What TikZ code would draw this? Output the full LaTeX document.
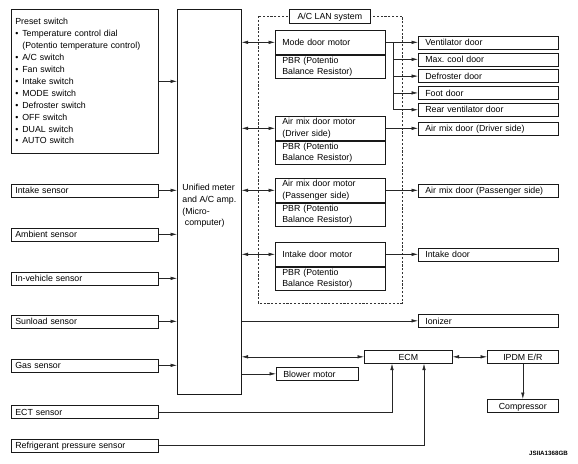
\documentclass[tikz,border=0pt]{standalone}
\usepackage{fontspec}
\setmainfont{Liberation Sans}
\usetikzlibrary{arrows.meta,calc}
\newcommand{\bul}{\makebox[7pt][l]{\textbullet}}
\frenchspacing
\begin{document}
\begin{tikzpicture}[x=1pt,y=-1pt,
  font=\fontsize{8.8}{11.5}\selectfont,
  box/.style={draw=black!90, line width=0.65pt, rectangle, inner sep=0pt, anchor=north west},
  lbox/.style 2 args={box, minimum height=13pt, text width=#1, inner xsep=#2, align=left, text height=6.4pt, text depth=0pt},
  cbox/.style={box, minimum height=13pt, align=center, text height=6.4pt, text depth=0pt},
  mtop/.style={box, minimum width=110pt, minimum height=24pt, text width=96pt, inner xsep=7pt, align=left},
  mbot/.style={box, minimum width=110pt, minimum height=23pt, text width=96pt, inner xsep=7pt, align=left},
  conn/.style={line width=0.55pt, draw=black!85},
  tip/.tip={Latex[length=6.5pt,width=3.5pt]},
  arr/.style={conn, -tip},
  darr/.style={conn, tip-tip},
  lan/.style={draw=black!80, line width=0.55pt, dash pattern=on 2.2pt off 1.6pt}]
\useasboundingbox (0,0) rectangle (578,463);

% LAN system frame
\draw[lan] (258,16) rectangle (402,303);
\node[cbox, fill=white, minimum width=81pt, minimum height=14pt] (lanlbl) at (289,9) {A/C LAN system};

% Left inputs
\node[box, minimum width=147pt, minimum height=144pt, text width=139pt, inner xsep=4pt, align=left,
      font=\fontsize{8.8}{11.9}\selectfont, yshift=-1.5pt] (preset) at (11,7.5) {Preset switch\\
\bul Temperature control dial\\
\hspace*{7pt}(Potentio temperature control)\\
\bul A/C switch\\
\bul Fan switch\\
\bul Intake switch\\
\bul MODE switch\\
\bul Defroster switch\\
\bul OFF switch\\
\bul DUAL switch\\
\bul AUTO switch};

\node[lbox={139pt}{4pt}] (intake) at (11,183.5) {Intake sensor};
\node[lbox={139pt}{4pt}] (ambient) at (11,227.5) {Ambient sensor};
\node[lbox={139pt}{4pt}] (invehicle) at (11,271.5) {In-vehicle sensor};
\node[lbox={139pt}{4pt}] (sunload) at (11,314.5) {Sunload sensor};
\node[lbox={139pt}{4pt}] (gas) at (11,358.5) {Gas sensor};
\node[lbox={139pt}{4pt}] (ect) at (11,405) {ECT sensor};
\node[lbox={139pt}{4pt}] (refr) at (11,438.5) {Refrigerant pressure sensor};

% Unified meter
\node[box, minimum width=64pt, minimum height=385pt, align=left,
      font=\fontsize{8.8}{11.7}\selectfont] (uni) at (177,9) {\rule{0pt}{5pt}\\[-2pt]Unified meter\\and A/C amp.\\(Micro-\\\hspace*{2.5pt}computer)};

% Motors
\node[mtop] (mode) at (275,30) {Mode door motor};
\node[mbot] (modep) at (mode.south west) {PBR (Potentio\\Balance Resistor)};
\node[mtop] (amd) at (275,116) {Air mix door motor\\(Driver side)};
\node[mbot] (amdp) at (amd.south west) {PBR (Potentio\\Balance Resistor)};
\node[mtop] (amp) at (275,178) {Air mix door motor\\(Passenger side)};
\node[mbot] (ampp) at (amp.south west) {PBR (Potentio\\Balance Resistor)};
\node[mtop] (idm) at (275,242) {Intake door motor};
\node[mbot] (idmp) at (idm.south west) {PBR (Potentio\\Balance Resistor)};

% Doors
\node[lbox={126pt}{7pt}] (vent) at (418,35.5) {Ventilator door};
\node[lbox={126pt}{7pt}] (maxc) at (418,52.5) {Max. cool door};
\node[lbox={126pt}{7pt}] (defr) at (418,69.3) {Defroster door};
\node[lbox={126pt}{7pt}] (foot) at (418,86.1) {Foot door};
\node[lbox={126pt}{7pt}] (rear) at (418,102.9) {Rear ventilator door};
\node[lbox={126pt}{7pt}] (amdd) at (418,121.5) {Air mix door (Driver side)};
\node[lbox={126pt}{7pt}] (ampd) at (418,183.5) {Air mix door (Passenger side)};
\node[lbox={126pt}{7pt}] (intd) at (418,247.5) {Intake door};
\node[lbox={126pt}{7pt}] (ion) at (418,314) {Ionizer};

% Lower outputs
\node[cbox, minimum width=88pt] (ecm) at (364,350) {ECM};
\node[cbox, minimum width=71pt] (ipdm) at (487,350) {IPDM E/R};
\node[cbox, minimum width=71pt] (comp) at (487,399) {Compressor};
\node[lbox={68pt}{7pt}] (blower) at (276,367) {Blower motor};

% Caption
\node[font=\bfseries\fontsize{6.2}{7}\selectfont, inner sep=0pt] (cap) at (548.5,453) {JSIIA1368GB};

% Connectors: inputs
\draw[arr] (preset.east) -- (preset.east -| uni.west);
\foreach \s in {intake,ambient,invehicle,sunload,gas}
  \draw[arr] (\s.east) -- (\s.east -| uni.west);

% Unified <-> motors
\foreach \m in {mode,amd,amp,idm}
  \draw[darr] (\m.west -| uni.east) -- (\m.west);

% Mode door branches
\draw[conn] (mode.east) -- ++(8,0) coordinate (br);
\draw[conn] (br) -- (br |- rear.west);
\foreach \d in {vent,maxc,defr,foot,rear}
  \draw[arr] (br |- \d.west) -- (\d.west);

\draw[arr] (amd.east) -- (amdd.west);
\draw[arr] (amp.east) -- (ampd.west);
\draw[arr] (idm.east) -- (intd.west);

% Ionizer, ECM, blower
\draw[arr] (ion.west -| uni.east) -- (ion.west);
\draw[darr] (ecm.west -| uni.east) -- (ecm.west);
\draw[arr] (blower.west -| uni.east) -- (blower.west);
\draw[darr] (ecm.east) -- (ipdm.west);
\draw[arr] (ipdm.south) -- (comp.north);

% ECT and refrigerant to ECM
\draw[arr] (ect.east) -| ([xshift=28pt]ecm.south west);
\draw[arr] (refr.east) -| ([xshift=60pt]ecm.south west);
\end{tikzpicture}
\end{document}
